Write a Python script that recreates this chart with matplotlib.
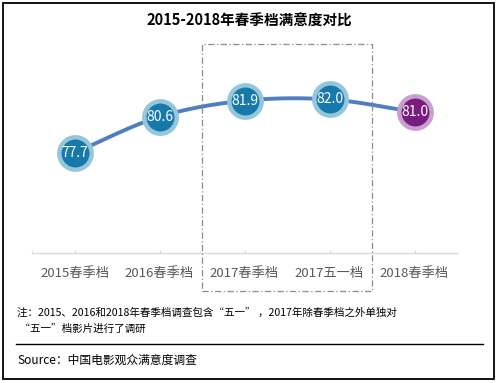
import numpy as np
import matplotlib
matplotlib.use("Agg")
import matplotlib.pyplot as plt
from matplotlib.patches import Rectangle
from matplotlib.lines import Line2D
import matplotlib.transforms as mtransforms

plt.rcParams['font.family'] = ['Noto Sans CJK SC', 'DejaVu Sans']

categories = ["2015春季档", "2016春季档", "2017春季档", "2017五一档", "2018春季档"]
values = [77.7, 80.6, 81.9, 82.0, 81.0]
labels = ["77.7", "80.6", "81.9", "82.0", "81.0"]
title = "2015-2018年春季档满意度对比"
note1 = "注：2015、2016和2018年春季档调查包含“五一” ，2017年除春季档之外单独对"
note2 = " “五一”档影片进行了调研"
source = "Source：中国电影观众满意度调查"

W, H = 498, 383
fig = plt.figure(figsize=(W / 100, H / 100), dpi=100)

def fx(px):
    return px / W

def fy(py):
    return 1 - py / H

ax = fig.add_axes([fx(32), fy(253), fx(457) - fx(32), fy(45) - fy(253)])
ax.set_xlim(-0.5, 4.5)
ax.set_ylim(69.6, 86.4)

x = np.arange(len(values), dtype=float)
y = np.array(values, dtype=float)

# smoothed line (Catmull-Rom between the data points)
def catmull(xp, yp, n=30):
    P = np.column_stack([xp, yp])
    P = np.vstack([P[0] - (P[1] - P[0]), P, P[-1] + (P[-1] - P[-2])])
    out = []
    for i in range(1, len(P) - 2):
        p0, p1, p2, p3 = P[i - 1], P[i], P[i + 1], P[i + 2]
        t = np.linspace(0, 1, n)[:, None]
        seg = 0.5 * ((2 * p1) + (-p0 + p2) * t + (2 * p0 - 5 * p1 + 4 * p2 - p3) * t ** 2
                     + (-p0 + 3 * p1 - 3 * p2 + p3) * t ** 3)
        out.append(seg)
    return np.vstack(out)

curve = catmull(x, y)
ax.plot(curve[:, 0], curve[:, 1], color="#4F7EC3", lw=2.8, zorder=2, solid_capstyle="round")

face = ["#1779A9"] * 4 + ["#7A1C7F"]
edge = ["#94C6DC"] * 4 + ["#C7A0CF"]
for xi, yi, fc, ec, lab in zip(x, y, face, edge, labels):
    ax.plot([xi], [yi], marker="o", ms=23.3, mfc=fc, mec=ec, mew=3.2, zorder=3, clip_on=False)
    ax.text(xi, yi, lab, color="white", fontsize=10, ha="center", va="center", zorder=4)

for s in ["top", "right", "left"]:
    ax.spines[s].set_visible(False)
ax.spines["bottom"].set_color("#D9D9D9")
ax.spines["bottom"].set_linewidth(1.0)
ax.set_yticks([])
ax.set_xticks(x)
ax.set_xticklabels(categories, color="#595959", fontsize=9.5)
ax.set_xticks([-0.5], minor=True)
ax.tick_params(axis="x", which="both", direction="in", length=2.5, color="#D9D9D9", pad=10)

# dashed highlight box
trans = mtransforms.blended_transform_factory(ax.transData, fig.transFigure)
box = Rectangle((1.5, fy(291)), 2.0, fy(44) - fy(291), transform=trans, fill=False,
                ec="#8C8C8C", lw=0.9, ls=(0, (5, 2, 1, 2)), clip_on=False, zorder=1)
fig.add_artist(box)

fig.text(fx(249), fy(21), title, fontsize=10.5, fontweight="bold", ha="center", va="center", color="#000000")
fig.text(fx(17), fy(313), note1, fontsize=7.6, ha="left", va="center", color="#000000")
fig.text(fx(17), fy(329), note2, fontsize=7.6, ha="left", va="center", color="#000000")
fig.text(fx(17), fy(360), source, fontsize=8.5, ha="left", va="center", color="#000000")

fig.add_artist(Line2D([fx(16), fx(483)], [fy(344), fy(344)], color="black", lw=1.0))
fig.add_artist(Rectangle((fx(3), fy(379)), fx(494) - fx(3), fy(3) - fy(379), fill=False,
                         ec="black", lw=1.3, transform=fig.transFigure))

fig.savefig("out.png", dpi=100)
